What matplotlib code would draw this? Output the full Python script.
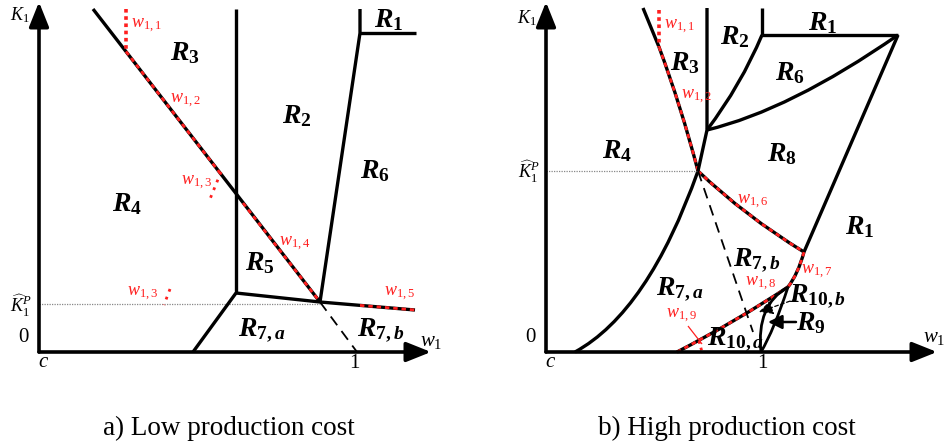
import numpy as np
import matplotlib.pyplot as plt
from matplotlib.path import Path
from matplotlib.patches import PathPatch

plt.rcParams['mathtext.fontset'] = 'custom'
plt.rcParams['mathtext.rm'] = 'Liberation Serif'
plt.rcParams['mathtext.it'] = 'Liberation Serif:italic'
plt.rcParams['mathtext.bf'] = 'Liberation Serif:bold'
plt.rcParams['mathtext.bfit'] = 'Liberation Serif:bold:italic'

# diagram coordinates (pixel-like, y grows downwards)
# ---- panel a: low production cost
a_origin = (39, 352)
a_xtip = (431, 352)
a_ytip = (39, 2)
a_khat = [(39, 304), (320, 304)]
a_diag = [(93, 9), (236, 193.5), (320, 302)]
a_red_diag1 = [(126, 51.5), (220, 173)]
a_red_diag2 = [(243, 203), (320, 302)]
a_w11 = [(126, 9), (126, 50)]
a_vert = [(236, 9), (236, 293)]
a_r5_bottom = [(236, 293), (320, 302), (415, 310)]
a_red_w15 = [(360, 305.4), (415, 310)]
a_r7a_left = [(236, 293), (193, 352)]
a_dashed = [(320, 302), (357, 352)]
a_r6_left = [(320, 302), (360, 33), (360, 9)]
a_r1_bottom = [(360, 33), (416, 33)]
a_w13_tick1 = [(221, 172), (210, 199)]
a_w13_tick2 = [(170, 289), (164, 305)]

a_regions = [('1', ''), ('3', ''), ('2', ''), ('6', ''), ('4', ''), ('5', ''),
             ('7,', 'a'), ('7,', 'b')]
a_region_pos = [(389, 19), (185, 52), (297, 115), (375, 170), (127, 203),
                (260, 262), (262, 330), (381, 330)]
a_wlabels = ['w_{1,1}', 'w_{1,2}', 'w_{1,3}', 'w_{1,4}', 'w_{1,3}', 'w_{1,5}']
a_wlabel_pos = [(146, 26), (185, 101), (197, 183), (295, 244), (143, 294), (400, 294)]

# ---- panel b: high production cost
b_origin = (546, 352)
b_xtip = (937, 352)
b_ytip = (546, 2)
b_khat = [(546, 171), (698, 171)]
A = (698, 171)
B = (707, 130)
D = (804, 252)
E = (898, 35)
F = (788, 287)
J = (761, 352)
b_left_top = [(643, 8), (659, 47)]
b_left_curve = [(659, 47), (681, 106), A]
b_w11 = [(659, 10), (659, 47)]
b_vert = [(707, 8), B, A]
b_r2r6 = [B, (741, 85), (762, 35)]
b_r2_top = [(762, 35), (762, 8)]
b_r1_top = [(762, 35), E]
b_r6r8 = [B, (790, 110), E]
b_r8r1 = [E, D]
b_w16 = [A, (745, 216), D]
b_w17 = [D, (798, 274), F]
b_w18 = [(677, 352), (735, 322), F]
b_r4r7 = [(575, 352), (648, 312), A]
b_dashed = [A, (753, 332)]
b_lens_left = [J, (756, 305), F]
b_lens_right = [J, (774, 330), F]
b_w19_ptr = [(688, 326), (702, 344)]
b_w19_dots = [(699, 341), (702, 352)]

b_regions = [('1', ''), ('2', ''), ('3', ''), ('6', ''), ('4', ''), ('8', ''),
             ('1', ''), ('7,', 'b'), ('7,', 'a'), ('10,', 'b'), ('9', ''), ('10,', 'a')]
b_region_pos = [(823, 22), (735, 36), (685, 62), (790, 72), (617, 150), (782, 153),
                (860, 226), (757, 260), (680, 289), (818, 296), (811, 322), (736, 339)]
b_wlabels = ['w_{1,1}', 'w_{1,2}', 'w_{1,6}', 'w_{1,7}', 'w_{1,8}', 'w_{1,9}']
b_wlabel_pos = [(679, 27), (696, 97), (753, 202), (817, 272), (761, 284), (682, 316)]

captions = ['a) Low production cost', 'b) High production cost']
caption_pos = [(229, 428), (727, 428)]

RED = '#ff1f1f'
LW = 2.4
REDDASH = (0, (1.6, 1.4))

fig = plt.figure(figsize=(9.45, 4.45), dpi=100)
ax = fig.add_axes([0, 0, 1, 1])
ax.set_xlim(0, 945)
ax.set_ylim(445, 0)
ax.axis('off')


def line(pts, **kw):
    pts = np.array(pts, dtype=float)
    ax.plot(pts[:, 0], pts[:, 1], solid_capstyle='butt', **kw)


def curve(pts, **kw):
    p = Path(pts, [Path.MOVETO, Path.CURVE3, Path.CURVE3])
    ax.add_patch(PathPatch(p, fill=False, capstyle='butt', **kw))


def black(pts):
    line(pts, color='k', lw=LW)


def redash(pts):
    line(pts, color=RED, lw=2.0, linestyle=REDDASH)


def axes_arrows(origin, xtip, ytip):
    for tip in (xtip, ytip):
        ax.annotate('', xy=tip, xytext=origin,
                    arrowprops=dict(arrowstyle='-|>,head_length=0.75,head_width=0.3',
                                    lw=2.6, color='k', shrinkA=0, shrinkB=0,
                                    mutation_scale=20))


# ---------- panel a
line(a_khat, color='#888888', lw=0.9, linestyle=(0, (1, 1)))
black(a_diag)
redash(a_red_diag1)
redash(a_red_diag2)
line(a_w11, color=RED, lw=2.6, linestyle=(0, (1, 1)))
black(a_vert)
black(a_r5_bottom)
redash(a_red_w15)
black(a_r7a_left)
line(a_dashed, color='k', lw=1.3, linestyle=(0, (6, 4)))
black(a_r6_left)
black(a_r1_bottom)
line(a_w13_tick1, color=RED, lw=2.0, linestyle=(0, (1, 2)))
line(a_w13_tick2, color=RED, lw=2.0, linestyle=(0, (1, 2)))
axes_arrows(a_origin, a_xtip, a_ytip)

# ---------- panel b
line(b_khat, color='#888888', lw=0.9, linestyle=(0, (1, 1)))
black(b_left_top)
curve(b_left_curve, color='k', lw=LW)
curve(b_left_curve, color=RED, lw=2.0, linestyle=REDDASH)
line(b_w11, color=RED, lw=2.6, linestyle=(0, (1, 1)))
black(b_vert)
curve(b_r2r6, color='k', lw=LW)
black(b_r2_top)
black(b_r1_top)
curve(b_r6r8, color='k', lw=LW)
black(b_r8r1)
for c in (b_w16, b_w17, b_w18):
    curve(c, color='k', lw=LW)
    curve(c, color=RED, lw=2.0, linestyle=REDDASH)
curve(b_r4r7, color='k', lw=LW)
line(b_dashed, color='k', lw=1.3, linestyle=(0, (6, 4)))
curve(b_lens_left, color='k', lw=2.0)
curve(b_lens_right, color='k', lw=2.0)
line(b_w19_ptr, color=RED, lw=0.9)
line(b_w19_dots, color=RED, lw=2.0, linestyle=(0, (1, 1.5)))
ax.annotate('', xy=(759, 312), xytext=(796, 299),
            arrowprops=dict(arrowstyle='-|>,head_length=0.6,head_width=0.3',
                            lw=0.9, color='k', linestyle=(0, (3, 2)),
                            shrinkA=0, shrinkB=0, mutation_scale=14))
ax.annotate('', xy=(768, 322), xytext=(796, 322),
            arrowprops=dict(arrowstyle='-|>,head_length=0.6,head_width=0.3',
                            lw=1.8, color='k', shrinkA=0, shrinkB=0,
                            mutation_scale=14))
axes_arrows(b_origin, b_xtip, b_ytip)

# ---------- labels
for (num, let), (x, y) in zip(a_regions + b_regions, a_region_pos + b_region_pos):
    sub = r'\mathbf{%s}' % num + (r'\mathbfit{%s}' % let if let else '')
    ax.text(x, y, r'$\mathbfit{R}_{%s}$' % sub, fontsize=20, ha='center', va='center')
for name, (x, y) in zip(a_wlabels + b_wlabels, a_wlabel_pos + b_wlabel_pos):
    ax.text(x, y, r'$%s$' % name, fontsize=13, color=RED, ha='center', va='center')

for (ox, oy), one_x, ky in ((a_origin, 354, 15), (b_origin, 762, 18)):
    ax.text(ox - 19, ky, r'$K_1$', fontsize=13, ha='center', va='center')
    ax.text(ox - 16, oy - 14, '0', fontsize=15, family='Liberation Serif',
            ha='center', va='center')
    ax.text(ox + 5, oy + 9, r'$c$', fontsize=15, ha='center', va='center')
    ax.text(one_x, oy + 12, '1', fontsize=15, family='Liberation Serif',
            ha='center', va='center')
ax.text(431, 341, r'$w_1$', fontsize=15, ha='center', va='center')
ax.text(934, 337, r'$w_1$', fontsize=15, ha='center', va='center')
ax.text(21, 306, r'$\widehat{K}_1^P$', fontsize=13, ha='center', va='center')
ax.text(529, 172, r'$\widehat{K}_1^P$', fontsize=13, ha='center', va='center')

for txt, (x, y) in zip(captions, caption_pos):
    ax.text(x, y, txt, fontsize=19.5, family='Liberation Serif', ha='center', va='center')

fig.savefig('out.png', dpi=100)
